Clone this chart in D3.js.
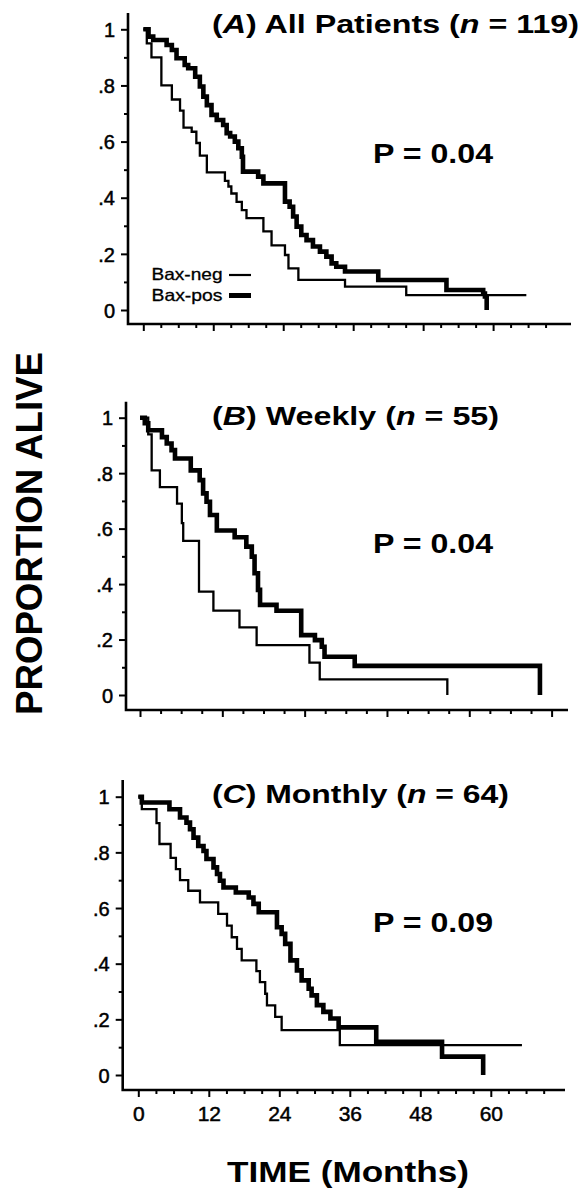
<!DOCTYPE html>
<html>
<head>
<meta charset="utf-8">
<script src="https://cdn.jsdelivr.net/npm/d3@7"></script>
<style>
  body { margin: 0; background: #fff; }
  svg { display: block; }
  text { font-family: "Liberation Sans", Arial, sans-serif; fill: #000; }
</style>
</head>
<body>
<div id="chart"></div>
<script>
// Kaplan-Meier steps (months, proportion alive)
const allNegTime = [0, 0.6, 1.4, 3.1, 4.9, 6.3, 6.9, 8.3, 9.1, 9.7, 10.9, 14.0, 14.6, 15.1, 16.0, 16.9, 17.7, 20.6, 22.0, 24.3, 24.9, 26.6, 34.6, 45.1, 65.7];
const allNegSurv = [1, 0.95, 0.90, 0.80, 0.75, 0.71, 0.65, 0.635, 0.595, 0.55, 0.49, 0.46, 0.44, 0.415, 0.385, 0.356, 0.327, 0.28, 0.23, 0.196, 0.148, 0.107, 0.083, 0.053, 0.053];
const allPosTime = [0, 0.9, 1.7, 4.0, 4.9, 5.7, 7.1, 7.7, 8.9, 9.7, 10.3, 10.9, 11.7, 12.6, 13.7, 14.3, 14.9, 15.7, 16.3, 16.9, 17.1, 19.7, 20.6, 24.3, 25.1, 25.7, 26.3, 27.1, 28.0, 29.1, 30.3, 31.4, 32.3, 33.1, 34.6, 40.3, 52.0, 58.3, 58.6, 58.9];
const allPosSurv = [1, 0.974, 0.962, 0.944, 0.926, 0.897, 0.873, 0.861, 0.831, 0.796, 0.76, 0.73, 0.695, 0.677, 0.659, 0.63, 0.618, 0.60, 0.576, 0.546, 0.493, 0.475, 0.451, 0.386, 0.368, 0.333, 0.297, 0.267, 0.249, 0.226, 0.208, 0.19, 0.166, 0.154, 0.137, 0.107, 0.071, 0.059, 0.048, 0];

const weeklyNegTime = [0, 1.2, 1.7, 2.9, 5.4, 6.1, 6.3, 8.6, 10.7, 14.5, 17.0, 24.7, 26.2, 44.8];
const weeklyNegSurv = [1, 0.94, 0.81, 0.75, 0.69, 0.62, 0.556, 0.373, 0.304, 0.244, 0.18, 0.117, 0.056, 0];
const weeklyPosTime = [0, 0.7, 1.2, 3.2, 3.9, 4.6, 5.1, 7.4, 8.7, 9.2, 9.7, 10.2, 11.2, 13.8, 15.5, 16.3, 16.7, 17.2, 17.5, 19.9, 23.5, 25.5, 26.5, 26.9, 31.3, 58.3];
const weeklyPosSurv = [1, 0.98, 0.955, 0.93, 0.907, 0.883, 0.853, 0.81, 0.775, 0.727, 0.697, 0.649, 0.593, 0.569, 0.535, 0.499, 0.439, 0.379, 0.325, 0.304, 0.216, 0.198, 0.174, 0.138, 0.105, 0];

const monthlyNegTime = [0, 0.6, 3.1, 3.6, 5.5, 6.4, 7.1, 8.5, 10.5, 13.6, 15.1, 15.9, 16.8, 17.6, 20.1, 20.7, 21.6, 21.9, 23.3, 24.4, 34.3, 65.3];
const monthlyNegSurv = [1, 0.955, 0.905, 0.83, 0.78, 0.74, 0.70, 0.662, 0.62, 0.579, 0.537, 0.495, 0.453, 0.412, 0.373, 0.334, 0.292, 0.25, 0.209, 0.161, 0.107, 0.107];
const monthlyPosTime = [0, 0.6, 5.3, 7.1, 8.2, 8.8, 9.4, 10.2, 11.1, 11.6, 12.8, 13.4, 13.9, 14.5, 16.6, 18.8, 19.6, 20.5, 23.6, 24.4, 25.0, 25.9, 27.0, 27.8, 29.0, 29.5, 30.4, 31.5, 32.7, 34.1, 40.5, 51.7, 58.7];
const monthlyPosSurv = [1, 0.979, 0.955, 0.925, 0.907, 0.883, 0.853, 0.823, 0.805, 0.776, 0.746, 0.722, 0.698, 0.674, 0.656, 0.638, 0.615, 0.585, 0.531, 0.507, 0.471, 0.412, 0.376, 0.34, 0.31, 0.286, 0.251, 0.227, 0.203, 0.171, 0.119, 0.066, 0];

// Labels
const panelLetters = ["A", "B", "C"];
const panelNames = ["All Patients", "Weekly", "Monthly"];
const panelN = [119, 55, 64];
const pValues = ["0.04", "0.04", "0.09"];
const seriesNames = ["Bax-neg", "Bax-pos"];
const yTickValues = [0, 0.2, 0.4, 0.6, 0.8, 1];
const yTickLabels = ["0", ".2", ".4", ".6", ".8", "1"];
const xTickValues = [0, 12, 24, 36, 48, 60];

const negSeries = [[allNegTime, allNegSurv], [weeklyNegTime, weeklyNegSurv], [monthlyNegTime, monthlyNegSurv]];
const posSeries = [[allPosTime, allPosSurv], [weeklyPosTime, weeklyPosSurv], [monthlyPosTime, monthlyPosSurv]];

// Layout for each panel (pixels), the scan is a bit skewed so each differs slightly
const layout = [
  { x0: 143.3, ppm: 5.83,  yTop: 29.3,  yBot: 310,  axX: 128,   axY: 324,  axTop: 13,    axRight: 571, xMax: 69, titleY: 33,    titleW: 367, pY: 163 },
  { x0: 140,   ppm: 6.86,  yTop: 417.7, yBot: 695,  axX: 126,   axY: 710,  axTop: 401.7, axRight: 568, xMax: 60, titleY: 425,   titleW: 287, pY: 553 },
  { x0: 138.3, ppm: 5.875, yTop: 796.7, yBot: 1075, axX: 122.7, axY: 1090, axTop: 780,   axRight: 565, xMax: 69, titleY: 803,   titleW: 297, pY: 931.7 }
];

const W = 586, H = 1190;
const svg = d3.select("#chart").append("svg")
  .attr("width", W)
  .attr("height", H);

layout.forEach((L, i) => {
  const x = d3.scaleLinear().domain([0, 60]).range([L.x0, L.x0 + 60 * L.ppm]);
  const y = d3.scaleLinear().domain([0, 1]).range([L.yBot, L.yTop]);
  const g = svg.append("g");

  // y axis minor + major ticks
  g.append("g")
    .attr("transform", `translate(${L.axX},0)`)
    .call(d3.axisLeft(y).tickValues([0.1, 0.3, 0.5, 0.7, 0.9]).tickSize(4).tickFormat(""))
    .call(a => a.select(".domain").remove());
  g.append("g")
    .attr("transform", `translate(${L.axX},0)`)
    .call(d3.axisLeft(y).tickValues(yTickValues).tickSize(7).tickPadding(6)
      .tickFormat((d, j) => yTickLabels[j]))
    .call(a => a.select(".domain").remove())
    .call(a => a.selectAll("text")
      .style("font-size", "20px")
      .style("stroke", "#000")
      .style("stroke-width", 0.5)
      .attr("dy", "0.36em"));

  // x axis minor + major ticks
  g.append("g")
    .attr("transform", `translate(0,${L.axY})`)
    .call(d3.axisBottom(x).tickValues(d3.range(3, L.xMax + 1, 3).filter(v => v % 12)).tickSize(4).tickFormat(""))
    .call(a => a.select(".domain").remove());
  g.append("g")
    .attr("transform", `translate(0,${L.axY})`)
    .call(d3.axisBottom(x).tickValues(xTickValues).tickSize(7).tickPadding(9)
      .tickFormat(d => i === 2 ? d : ""))
    .call(a => a.select(".domain").remove())
    .call(a => a.selectAll("text")
      .style("font-size", "21px")
      .style("stroke", "#000")
      .style("stroke-width", 0.5));

  g.selectAll(".tick line").attr("stroke", "#000").attr("stroke-width", 2);

  // axis lines
  g.append("path")
    .attr("d", `M${L.axX},${L.axTop}V${L.axY}H${L.axRight}`)
    .attr("fill", "none")
    .attr("stroke", "#000")
    .attr("stroke-width", 2.6);

  // survival curves
  const line = d3.line()
    .x(d => x(d[0]))
    .y(d => y(d[1]))
    .curve(d3.curveStepAfter);

  g.append("path")
    .datum(d3.zip(negSeries[i][0], negSeries[i][1]))
    .attr("d", line)
    .attr("fill", "none")
    .attr("stroke", "#000")
    .attr("stroke-width", 2.3);

  g.append("path")
    .datum(d3.zip(posSeries[i][0], posSeries[i][1]))
    .attr("d", line)
    .attr("fill", "none")
    .attr("stroke", "#000")
    .attr("stroke-width", 4.6);

  // panel title
  const title = g.append("text")
    .attr("x", 212)
    .attr("y", L.titleY)
    .attr("textLength", L.titleW)
    .attr("lengthAdjust", "spacingAndGlyphs")
    .style("font-size", "25px")
    .style("font-weight", "bold");
  title.append("tspan").text("(");
  title.append("tspan").style("font-style", "italic").text(panelLetters[i]);
  title.append("tspan").text(`) ${panelNames[i]} (`);
  title.append("tspan").style("font-style", "italic").text("n");
  title.append("tspan").text(` = ${panelN[i]})`);

  // P value
  g.append("text")
    .attr("x", 373)
    .attr("y", L.pY)
    .attr("textLength", 120)
    .attr("lengthAdjust", "spacingAndGlyphs")
    .style("font-size", "28px")
    .style("font-weight", "bold")
    .text(`P = ${pValues[i]}`);

  // legend only in first panel
  if (i === 0) {
    seriesNames.forEach((name, k) => {
      const ly = 280 + k * 20.5;
      g.append("text")
        .attr("x", 151.5)
        .attr("y", ly)
        .attr("textLength", 71)
        .attr("lengthAdjust", "spacingAndGlyphs")
        .style("font-size", "16.5px")
        .style("stroke", "#000")
        .style("stroke-width", 0.3)
        .text(name);
      g.append("line")
        .attr("x1", 229).attr("x2", 251)
        .attr("y1", ly - 5).attr("y2", ly - 5)
        .attr("stroke", "#000")
        .attr("stroke-width", k === 0 ? 2.2 : 5);
    });
  }
});

// shared axis titles
svg.append("text")
  .attr("transform", "translate(42,533.5) rotate(-90)")
  .attr("text-anchor", "middle")
  .attr("textLength", 363)
  .attr("lengthAdjust", "spacingAndGlyphs")
  .style("font-size", "37px")
  .style("font-weight", "bold")
  .text("PROPORTION  ALIVE");

svg.append("text")
  .attr("x", 227)
  .attr("y", 1181.5)
  .attr("textLength", 242)
  .attr("lengthAdjust", "spacingAndGlyphs")
  .style("font-size", "30px")
  .style("font-weight", "bold")
  .text("TIME (Months)");
</script>
</body>
</html>
